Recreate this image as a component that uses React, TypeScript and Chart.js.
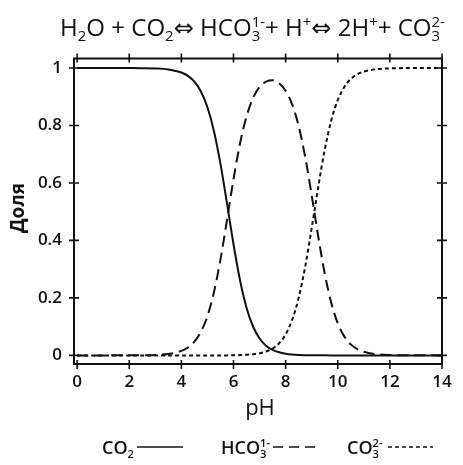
import React, { useEffect, useRef } from 'react';
import { Chart, registerables } from 'chart.js';

Chart.register(...registerables);

// pH values (x)
const pH = [0, 1, 2, 2.5, 3, 3.5, 4, 4.25, 4.5, 4.75, 5, 5.25, 5.5, 5.75, 6, 6.25, 6.5, 6.75, 7, 7.25, 7.5, 7.75, 8, 8.25, 8.5, 8.75, 9, 9.25, 9.5, 9.75, 10, 10.25, 10.5, 10.75, 11, 11.5, 12, 13, 14];

// fractions
const co2 = [1, 1, 0.9998, 0.9995, 0.9984, 0.995, 0.9844, 0.9726, 0.9523, 0.9182, 0.8632, 0.7801, 0.6662, 0.5287, 0.3867, 0.2616, 0.166, 0.1005, 0.0589, 0.0338, 0.0191, 0.0106, 0.0058, 0.0031, 0.0016, 0.0008, 0.0004, 0.0002, 0.0001, 0, 0, 0, 0, 0, 0, 0, 0, 0, 0];
const hco3 = [0, 0, 0.0002, 0.0005, 0.0016, 0.005, 0.0156, 0.0274, 0.0477, 0.0818, 0.1368, 0.2199, 0.3338, 0.4712, 0.6129, 0.7373, 0.8319, 0.8955, 0.9337, 0.9527, 0.9569, 0.9471, 0.921, 0.8735, 0.798, 0.6907, 0.5571, 0.4144, 0.2847, 0.1829, 0.1118, 0.0661, 0.0383, 0.0219, 0.0124, 0.004, 0.0013, 0.0001, 0];
const co3 = [0, 0, 0, 0, 0, 0, 0, 0, 0, 0, 0, 0, 0, 0, 0.0005, 0.001, 0.0021, 0.004, 0.0074, 0.0135, 0.024, 0.0423, 0.0732, 0.1234, 0.2004, 0.3085, 0.4425, 0.5855, 0.7152, 0.8171, 0.8882, 0.9339, 0.9617, 0.9781, 0.9876, 0.996, 0.9987, 0.9999, 1];

const xTicks = [0, 2, 4, 6, 8, 10, 12, 14];
const yTicks = [0, 0.2, 0.4, 0.6, 0.8, 1];
const yTickLabels = ['0', '0.2', '0.4', '0.6', '0.8', '1'];
const xTitle = 'pH';
const yTitle = 'Доля';

type Seg = { t: string; sub?: string; sup?: string };

const titleSegs: Seg[] = [
  { t: 'H', sub: '2' },
  { t: 'O + CO', sub: '2' },
  { t: '\u21D4 HCO', sub: '3', sup: '1-' },
  { t: '+ H', sup: '+' },
  { t: '\u21D4 2H', sup: '+' },
  { t: '+ CO', sub: '3', sup: '2-' },
];

const legendItems: { segs: Seg[]; dash: number[] }[] = [
  { segs: [{ t: 'CO', sub: '2' }], dash: [] },
  { segs: [{ t: 'HCO', sub: '3', sup: '1-' }], dash: [10, 6] },
  { segs: [{ t: 'CO', sub: '3', sup: '2-' }], dash: [4, 3] },
];

const FAMILY = '"Open Sans", "DejaVu Sans", sans-serif';
const INK = '#111';

function drawRich(ctx: CanvasRenderingContext2D, segs: Seg[], x: number, y: number, size: number, draw: boolean, weight = 'normal'): number {
  let cx = x;
  ctx.textAlign = 'left';
  ctx.textBaseline = 'alphabetic';
  for (const s of segs) {
    if (s.t) {
      ctx.font = `${weight} ${size}px ${FAMILY}`;
      if (draw) ctx.fillText(s.t, cx, y);
      cx += ctx.measureText(s.t).width;
    }
    const small = size * 0.62;
    ctx.font = `${weight} ${small}px ${FAMILY}`;
    let w = 0;
    if (s.sub) {
      if (draw) ctx.fillText(s.sub, cx, y + size * 0.2);
      w = Math.max(w, ctx.measureText(s.sub).width);
    }
    if (s.sup) {
      if (draw) ctx.fillText(s.sup, cx, y - size * 0.38);
      w = Math.max(w, ctx.measureText(s.sup).width);
    }
    cx += w;
  }
  return cx - x;
}

const decorPlugin = {
  id: 'decor',
  afterDatasetsDraw(chart: any) {
    const ctx: CanvasRenderingContext2D = chart.ctx;
    const { left, right, top, bottom } = chart.chartArea;
    const xs = chart.scales.x;
    const ys = chart.scales.y;
    ctx.save();
    // frame
    ctx.strokeStyle = INK;
    ctx.lineWidth = 2;
    ctx.setLineDash([]);
    ctx.strokeRect(left, top, right - left, bottom - top);
    // ticks crossing the frame on all four sides
    ctx.lineWidth = 1.6;
    ctx.beginPath();
    for (const v of xTicks) {
      const px = xs.getPixelForValue(v);
      ctx.moveTo(px, bottom - 4); ctx.lineTo(px, bottom + 5);
      ctx.moveTo(px, top - 5); ctx.lineTo(px, top + 4);
    }
    for (const v of yTicks) {
      const py = ys.getPixelForValue(v);
      ctx.moveTo(left - 5, py); ctx.lineTo(left + 5, py);
      ctx.moveTo(right - 5, py); ctx.lineTo(right + 5, py);
    }
    ctx.stroke();

    ctx.fillStyle = INK;
    // title
    let size = 22;
    const w0 = drawRich(ctx, titleSegs, 0, 0, size, false);
    size = size * 385 / w0;
    drawRich(ctx, titleSegs, 60, 36, size, true);

    // axis titles
    ctx.font = `normal 22px ${FAMILY}`;
    ctx.textAlign = 'center';
    ctx.textBaseline = 'alphabetic';
    ctx.fillText(xTitle, 260, 415);
    ctx.save();
    ctx.translate(19, 208);
    ctx.rotate(-Math.PI / 2);
    ctx.font = `bold 19px ${FAMILY}`;
    ctx.textBaseline = 'middle';
    ctx.fillText(yTitle, 0, 0);
    ctx.restore();

    // legend
    const textX = [102, 221, 347];
    const lineX = [[137, 183], [273, 319], [388, 433]];
    legendItems.forEach((it, i) => {
      ctx.fillStyle = INK;
      drawRich(ctx, it.segs, textX[i], 454, 18, true, '600');
      ctx.strokeStyle = INK;
      ctx.lineWidth = 1.6;
      ctx.setLineDash(it.dash);
      ctx.beginPath();
      ctx.moveTo(lineX[i][0], 447);
      ctx.lineTo(lineX[i][1], 447);
      ctx.stroke();
    });
    ctx.restore();
  },
};

export default function App() {
  const ref = useRef<HTMLCanvasElement | null>(null);
  useEffect(() => {
    if (!ref.current) return;
    const mk = (ys: number[]) => pH.map((x, i) => ({ x, y: ys[i] }));
    const common = { borderColor: INK, borderWidth: 2, pointRadius: 0, fill: false, cubicInterpolationMode: 'monotone' as const };
    const chart = new Chart(ref.current, {
      type: 'line',
      data: {
        datasets: [
          { label: 'CO2', data: mk(co2), ...common, borderDash: [] },
          { label: 'HCO3', data: mk(hco3), ...common, borderDash: [11, 6] },
          { label: 'CO3', data: mk(co3), ...common, borderDash: [4, 3] },
        ],
      },
      options: {
        animation: false,
        responsive: false,
        maintainAspectRatio: false,
        events: [],
        layout: { padding: { left: 0, right: 21, top: 58.5, bottom: 61 } },
        plugins: { legend: { display: false }, title: { display: false }, tooltip: { enabled: false } },
        scales: {
          x: {
            type: 'linear',
            min: -0.12,
            max: 14,
            grid: { display: false, drawTicks: false },
            border: { display: false },
            afterBuildTicks: (s: any) => { s.ticks = xTicks.map((v) => ({ value: v })); },
            afterFit: (s: any) => { s.height = 40; },
            ticks: { padding: 8, color: INK, font: { family: FAMILY, size: 17, weight: '600' }, callback: (v: any) => String(v), maxRotation: 0 },
          },
          y: {
            type: 'linear',
            min: -0.03,
            max: 1.033,
            grid: { display: false, drawTicks: false },
            border: { display: false },
            afterBuildTicks: (s: any) => { s.ticks = yTicks.map((v) => ({ value: v })); },
            afterFit: (s: any) => { s.width = 74; },
            ticks: {
              padding: 12,
              color: INK,
              font: { family: FAMILY, size: 17, weight: '600' },
              callback: (v: any) => { const i = yTicks.indexOf(v); return i >= 0 ? yTickLabels[i] : ''; },
            },
          },
        },
      },
      plugins: [decorPlugin],
    });
    return () => chart.destroy();
  }, []);
  return (
    <div style={{ position: 'absolute', left: 0, top: 0, width: 463, height: 465, background: '#fff' }}>
      <canvas ref={ref} width={463} height={465} style={{ display: 'block', width: 463, height: 465 }} />
    </div>
  );
}
